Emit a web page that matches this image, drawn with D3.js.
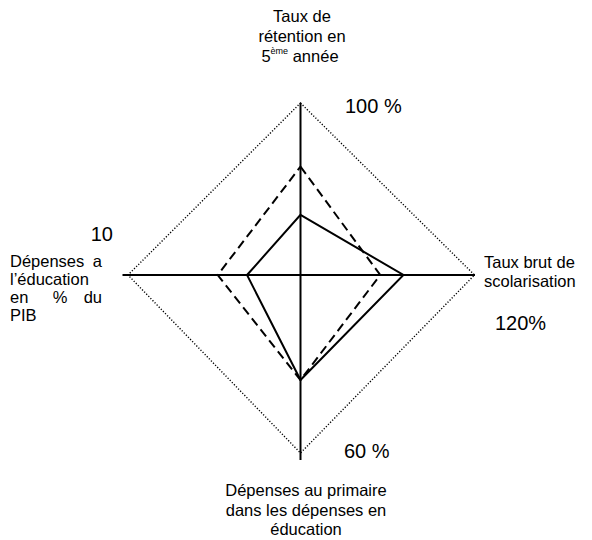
<!DOCTYPE html>
<html>
<head>
<meta charset="utf-8">
<script src="https://cdn.jsdelivr.net/npm/d3@7"></script>
<style>
  body { margin: 0; background: #fff; }
  text { font-family: Arial, "Liberation Sans", sans-serif; fill: #000; }
</style>
</head>
<body>
<svg id="radar" width="592" height="540"></svg>
<script>
// data
const axisNames = ['Taux de rétention en 5ème année', 'Taux brut de scolarisation',
  'Dépenses au primaire dans les dépenses en éducation', "Dépenses a l'éducation en % du PIB"];
const maxValues = [100, 120, 60, 10];
const maxLabels = ['100 %', '120%', '60 %', '10'];
const solidSeries = [35, 71, 35.4, 3.1];
const dashedSeries = [63, 55, 35.4, 4.8];

const svg = d3.select('#radar');
const cx = 300.5, cy = 275;
// per-axis radius of the outer diamond, and how far the axis line goes
const radii = [172, 174, 178, 172.5];
const axisLen = [172, 174.5, 185, 178];
const dirs = [[0, -1], [1, 0], [0, 1], [-1, 0]];

const scales = maxValues.map((m, i) => d3.scaleLinear().domain([0, m]).range([0, radii[i]]));
const pt = (i, v) => [cx + dirs[i][0] * scales[i](v), cy + dirs[i][1] * scales[i](v)];

const line = d3.line().curve(d3.curveLinearClosed);

// outer dotted diamond
svg.append('path')
  .attr('d', line(maxValues.map((m, i) => pt(i, m))))
  .attr('fill', 'none').attr('stroke', '#000')
  .attr('stroke-width', 1.4).attr('stroke-dasharray', '1.2,1.8');

// axes
svg.selectAll('.axis').data(dirs).enter().append('line')
  .attr('class', 'axis')
  .attr('x1', cx).attr('y1', cy)
  .attr('x2', (d, i) => cx + d[0] * axisLen[i])
  .attr('y2', (d, i) => cy + d[1] * axisLen[i])
  .attr('stroke', '#000').attr('stroke-width', 2);

// series
svg.append('path')
  .attr('d', line(dashedSeries.map((v, i) => pt(i, v))))
  .attr('fill', 'none').attr('stroke', '#000')
  .attr('stroke-width', 2).attr('stroke-dasharray', '9,5');
svg.append('path')
  .attr('d', line(solidSeries.map((v, i) => pt(i, v))))
  .attr('fill', 'none').attr('stroke', '#000')
  .attr('stroke-width', 2);

// max value labels
const maxPos = [[345, 113, 'start'], [495, 330, 'start'], [344, 458, 'start'], [113, 241, 'end']];
maxLabels.forEach((t, i) => {
  svg.append('text')
    .attr('x', maxPos[i][0]).attr('y', maxPos[i][1])
    .attr('text-anchor', maxPos[i][2])
    .style('font-size', '20px')
    .text(t);
});

const fs = '16.5px';

// top label
const topLbl = svg.append('text').attr('text-anchor', 'middle').style('font-size', fs);
topLbl.append('tspan').attr('x', 302).attr('y', 22).text('Taux de');
topLbl.append('tspan').attr('x', 302).attr('y', 42).text('rétention en');
const l3 = topLbl.append('tspan').attr('x', 300).attr('y', 62);
l3.append('tspan').text('5');
l3.append('tspan').attr('dy', -8).style('font-size', '9px').text('ème');
l3.append('tspan').attr('dy', 8).text(' année');

// right label
const rightLbl = svg.append('text').style('font-size', fs);
rightLbl.append('tspan').attr('x', 484).attr('y', 267.5).text('Taux brut de');
rightLbl.append('tspan').attr('x', 484).attr('y', 287).text('scolarisation');

// bottom label
const botLbl = svg.append('text').attr('text-anchor', 'middle').style('font-size', fs);
botLbl.append('tspan').attr('x', 306).attr('y', 496).text('Dépenses au primaire');
botLbl.append('tspan').attr('x', 306).attr('y', 515.5).text('dans les dépenses en');
botLbl.append('tspan').attr('x', 306).attr('y', 535).text('éducation');

// left label (justified block)
const leftLines = [
  [['Dépenses', 'start'], ['a', 'end']],
  [["l’éducation", 'start']],
  [['en', 'start'], ['%', 'middle'], ['du', 'end']],
  [['PIB', 'start']]
];
const lx0 = 10, lx1 = 102, ly0 = 267, lstep = 18;
leftLines.forEach((words, r) => {
  words.forEach(([w, a]) => {
    svg.append('text')
      .attr('x', a === 'start' ? lx0 : a === 'end' ? lx1 : (lx0 + lx1) / 2 + 4)
      .attr('y', ly0 + r * lstep)
      .attr('text-anchor', a)
      .style('font-size', fs)
      .text(w);
  });
});
</script>
</body>
</html>
